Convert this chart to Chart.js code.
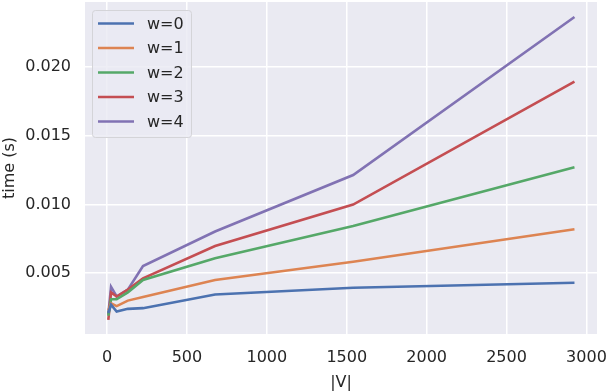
<!DOCTYPE html>
<html>
<head>
<meta charset="utf-8">
<script src="https://cdn.jsdelivr.net/npm/chart.js@4/dist/chart.umd.min.js"></script>
<style>
  html, body { margin: 0; padding: 0; background: #fff; }
  #wrap { width: 608px; height: 392px; }
</style>
</head>
<body>
<div id="wrap"><canvas id="myChart"></canvas></div>
<script>
// ================= Data =================
const sizes = [8, 25, 60, 130, 225, 676, 1540, 2925];
const labels = ['w=0', 'w=1', 'w=2', 'w=3', 'w=4'];
const w0 = [0.0021, 0.0027, 0.0022, 0.0024, 0.00245, 0.00345, 0.00394, 0.00430];
const w1 = [0.0023, 0.0028, 0.0026, 0.0030, 0.00326, 0.00450, 0.00583, 0.00819];
const w2 = [0.0019, 0.0031, 0.0031, 0.0036, 0.00450, 0.00608, 0.00843, 0.01270];
const w3 = [0.0016, 0.0036, 0.0033, 0.0038, 0.00462, 0.00697, 0.00999, 0.01893];
const w4 = [0.0020, 0.0040, 0.0033, 0.0038, 0.00552, 0.00803, 0.01214, 0.02364];
const xTicks = [0, 500, 1000, 1500, 2000, 2500, 3000];
const yTicks = [0.005, 0.010, 0.015, 0.020];

const colors = ['#4C72B0', '#DD8452', '#55A868', '#C44E52', '#8172B3'];
const series = [w0, w1, w2, w3, w4];
const FONT = "'DejaVu Sans', sans-serif";
const TEXT = '#262626';

// ================= Plugins =================
const bgPlugin = {
  id: 'bg',
  beforeDraw(chart) {
    const { ctx, chartArea: a } = chart;
    ctx.save();
    ctx.fillStyle = '#EAEAF2';
    ctx.fillRect(a.left, a.top, a.right - a.left, a.bottom - a.top);
    ctx.restore();
  }
};

const legendPlugin = {
  id: 'boxLegend',
  afterDatasetsDraw(chart) {
    const { ctx, chartArea: a } = chart;
    const x = a.left + 7.5, y = a.top + 8.5, w = 99, h = 127;
    ctx.save();
    ctx.beginPath();
    ctx.roundRect(x, y, w, h, 3);
    ctx.fillStyle = 'rgba(234,234,242,0.8)';
    ctx.fill();
    ctx.strokeStyle = '#d4d4d8';
    ctx.lineWidth = 1;
    ctx.stroke();
    ctx.font = '16px ' + FONT;
    ctx.textBaseline = 'middle';
    chart.data.datasets.forEach((ds, i) => {
      const ry = y + 13 + i * 24.5;
      ctx.strokeStyle = ds.borderColor;
      ctx.lineWidth = 2.6;
      ctx.beginPath();
      ctx.moveTo(x + 5.5, ry);
      ctx.lineTo(x + 41.5, ry);
      ctx.stroke();
      ctx.fillStyle = TEXT;
      ctx.fillText(ds.label, x + 54.5, ry + 1);
    });
    ctx.restore();
  }
};

// ================= Line Chart =================
const ctx = document.getElementById('myChart');

new Chart(ctx, {
  type: 'line',
  data: {
    datasets: labels.map((lab, i) => ({
      label: lab,
      data: sizes.map((s, j) => ({ x: s, y: series[i][j] })),
      borderColor: colors[i],
      backgroundColor: colors[i],
      borderWidth: 2.6,
      pointRadius: 0,
      tension: 0
    }))
  },
  options: {
    responsive: true,
    maintainAspectRatio: false,
    animation: false,
    layout: { padding: { top: 2, right: 11, left: 0, bottom: 0 } },
    plugins: {
      legend: { display: false },
      tooltip: { enabled: false }
    },
    scales: {
      x: {
        type: 'linear',
        min: -138,
        max: 3066,
        afterBuildTicks: s => { s.ticks = xTicks.map(v => ({ value: v })); },
        afterFit: s => { s.height = 58; s.paddingLeft = 0; s.paddingRight = 0; },
        grid: { color: '#ffffff', lineWidth: 1.5, tickLength: 0 },
        border: { display: false },
        ticks: {
          color: TEXT, padding: 14, maxRotation: 0, font: { family: FONT, size: 16 },
          callback: v => String(v)
        },
        title: { display: true, text: '|V|', color: TEXT, padding: 0, font: { family: FONT, size: 16 } }
      },
      y: {
        min: 0.00057,
        max: 0.02473,
        afterBuildTicks: s => { s.ticks = yTicks.map(v => ({ value: v })); },
        afterFit: s => { s.width = 85; s.paddingTop = 0; s.paddingBottom = 0; },
        grid: { color: '#ffffff', lineWidth: 1.5, tickLength: 0 },
        border: { display: false },
        ticks: {
          color: TEXT, padding: 14, font: { family: FONT, size: 16 },
          callback: v => v.toFixed(3)
        },
        title: { display: true, text: 'time (s)', color: TEXT, padding: 0, font: { family: FONT, size: 16 } }
      }
    }
  },
  plugins: [bgPlugin, legendPlugin]
});
</script>
</body>
</html>
